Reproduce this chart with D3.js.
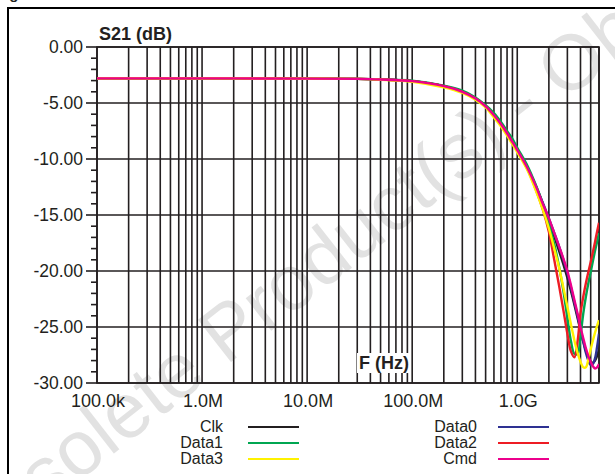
<!DOCTYPE html>
<html><head><meta charset="utf-8">
<script src="https://cdn.jsdelivr.net/npm/d3@7"></script>
<style>
html,body{margin:0;padding:0;background:#fff;}
svg{display:block;font-family:"Liberation Sans",Arial,Helvetica,sans-serif;}
</style></head>
<body>
<svg id="chart" width="615" height="474"></svg>
<script>
// ---------- data ----------
const freqs = [1e5,1e6,1e7,3e7,5e7,1e8,2e8,3e8,4e8,5e8,6e8,7e8,8e8,9e8,1e9,
  1.25e9,1.5e9,1.75e9,2e9,2.25e9,2.5e9,2.75e9,3e9,3.25e9,3.5e9,3.75e9,4e9,4.25e9,4.5e9,4.75e9,5e9,5.25e9,5.5e9,5.75e9,6e9];
const clk   = [-2.8,-2.8,-2.82,-2.85,-2.9,-3.05,-3.5,-4.0,-4.6,-5.3,-6.1,-6.9,-7.7,-8.5,-9.2,
  -10.8,-12.4,-14.0,-15.5,-16.9,-18.2,-19.4,-20.6,-21.8,-23.0,-24.2,-25.3,-26.3,-27.1,-27.7,-28.1,-28.2,-28.0,-27.6,-27.0];
const data0 = [-2.8,-2.8,-2.82,-2.85,-2.9,-3.05,-3.5,-4.0,-4.6,-5.3,-6.1,-6.9,-7.7,-8.5,-9.2,
  -10.8,-12.4,-13.9,-15.3,-16.6,-17.8,-19.0,-20.2,-21.5,-22.8,-24.0,-25.2,-26.3,-27.3,-28.0,-28.4,-28.3,-27.8,-26.8,-25.6];
const data1 = [-2.8,-2.8,-2.82,-2.85,-2.9,-3.0,-3.45,-3.9,-4.5,-5.2,-5.9,-6.7,-7.5,-8.2,-9.0,
  -10.6,-12.3,-14.0,-15.8,-17.6,-19.6,-21.8,-24.2,-26.3,-27.4,-27.4,-25.8,-23.8,-22.3,-21.1,-20.1,-19.1,-18.2,-17.4,-16.6];
const data2 = [-2.8,-2.8,-2.82,-2.85,-2.9,-3.05,-3.5,-4.0,-4.6,-5.3,-6.1,-6.9,-7.7,-8.5,-9.2,
  -10.9,-12.7,-14.5,-16.5,-19.0,-21.3,-23.5,-25.6,-27.2,-27.7,-26.3,-23.8,-22.3,-21.1,-20.1,-19.2,-18.3,-17.4,-16.5,-15.7];
const data3 = [-2.8,-2.8,-2.82,-2.85,-2.92,-3.1,-3.6,-4.1,-4.7,-5.4,-6.3,-7.1,-7.9,-8.7,-9.4,
  -11.0,-12.8,-14.5,-16.2,-18.0,-19.7,-21.5,-23.2,-24.8,-26.2,-27.3,-28.1,-28.6,-28.6,-27.9,-27.0,-26.2,-25.5,-24.9,-24.4];
const cmd   = [-2.8,-2.8,-2.82,-2.85,-2.9,-3.05,-3.5,-4.0,-4.6,-5.3,-6.1,-6.9,-7.7,-8.5,-9.2,
  -10.8,-12.4,-14.0,-15.3,-16.6,-17.8,-18.9,-20.0,-21.3,-22.6,-23.8,-25.0,-26.0,-26.9,-27.6,-28.1,-28.5,-28.7,-28.6,-28.3];

const seriesNames  = ["Clk","Data0","Data1","Data2","Data3","Cmd"];
const seriesValues = [clk, data0, data1, data2, data3, cmd];
const seriesColors = ["#231f20","#2e3192","#00a651","#ed1c24","#fff200","#ec008c"];

const xTickValues = [1e5,1e6,1e7,1e8,1e9];
const xTickLabels = ["100.0k","1.0M","10.0M","100.0M","1.0G"];
const yTickValues = [0,-5,-10,-15,-20,-25,-30];
const yTickLabels = ["0.00","-5.00","-10.00","-15.00","-20.00","-25.00","-30.00"];

// ---------- layout ----------
const svg = d3.select("#chart");
const L = 97, R = 599, T = 47, B = 383;
const ink = "#231f20";

const x = d3.scaleLog().domain([1e5, 6e9]).range([L, R]);
const y = d3.scaleLinear().domain([0, -30]).range([T, B]);

// watermark
const wm = svg.append("text")
  .attr("font-size", 78)
  .attr("fill", "#e2e2e2")
  .text("Obsolete Product(s) - Obsolete Product(s)");
const off = wm.node().getSubStringLength(0, 9);
wm.attr("transform", `translate(226,366) rotate(-38) translate(${-off},0)`);

// partial title at very top
svg.append("text").attr("x", -4).attr("y", -1)
  .attr("font-size", 15).attr("font-weight", "bold").attr("fill", ink).text("Figure");

// outer frame
svg.append("rect").attr("x", 8).attr("y", 8).attr("width", 700).attr("height", 600)
  .attr("fill", "none").attr("stroke", "#000").attr("stroke-width", 2);

// grid: vertical lines (log decades 1..9)
const vGrid = [];
for (let d = 1e5; d < 6e9; d *= 10) for (let k = 1; k <= 9; k++) { const f = d * k; if (f <= 6e9) vGrid.push(f); }
svg.append("g").selectAll("line").data(vGrid).join("line")
  .attr("x1", d => x(d)).attr("x2", d => x(d)).attr("y1", T).attr("y2", B)
  .attr("stroke", ink).attr("stroke-width", 1.6);
svg.append("g").selectAll("line").data(yTickValues).join("line")
  .attr("x1", L).attr("x2", R).attr("y1", d => y(d)).attr("y2", d => y(d))
  .attr("stroke", ink).attr("stroke-width", 1.6);
svg.append("rect").attr("x", L).attr("y", T).attr("width", R - L).attr("height", B - T)
  .attr("fill", "none").attr("stroke", ink).attr("stroke-width", 1.6);

// y axis ticks
const yMinor = d3.range(0, -31, -1);
svg.append("g").selectAll("line").data(yMinor).join("line")
  .attr("x1", d => (d % 5 === 0 ? 86 : 91)).attr("x2", L)
  .attr("y1", d => y(d)).attr("y2", d => y(d))
  .attr("stroke", ink).attr("stroke-width", 1.6);
svg.append("g").selectAll("text").data(yTickValues).join("text")
  .attr("x", 83).attr("y", d => y(d)).attr("dy", "0.36em")
  .attr("text-anchor", "end").attr("font-size", 17.5).attr("fill", ink)
  .text((d, i) => yTickLabels[i]);

// x axis labels
svg.append("g").selectAll("text").data(xTickValues).join("text")
  .attr("x", d => x(d) + 1).attr("y", 407)
  .attr("text-anchor", "middle").attr("font-size", 18).attr("fill", ink)
  .text((d, i) => xTickLabels[i]);

// axis titles
svg.append("text").attr("x", 99).attr("y", 40).attr("font-size", 18)
  .attr("font-weight", "bold").attr("fill", ink).text("S21 (dB)");
const fx = svg.append("g");
const fxt = fx.append("text").attr("x", 384).attr("y", 369).attr("text-anchor", "middle")
  .attr("font-size", 18).attr("font-weight", "bold").attr("fill", ink).text("F (Hz)");
const bb = fxt.node().getBBox();
fx.insert("rect", "text").attr("x", bb.x - 2).attr("y", bb.y).attr("width", bb.width + 4)
  .attr("height", bb.height).attr("fill", "#fff");

// curves
svg.append("clipPath").attr("id", "clip").append("rect")
  .attr("x", L).attr("y", T).attr("width", R - L).attr("height", B - T);
const line = d3.line().x(d => x(d[0])).y(d => y(d[1])).curve(d3.curveCatmullRom.alpha(0.5));
svg.append("g").attr("clip-path", "url(#clip)").selectAll("path")
  .data(seriesValues).join("path")
  .attr("d", vals => line(freqs.map((f, i) => [f, vals[i]])))
  .attr("fill", "none").attr("stroke", (d, i) => seriesColors[i])
  .attr("stroke-width", 2.4).attr("stroke-linejoin", "round");

// legend
const legendOrder = [["Clk", 0], ["Data1", 2], ["Data3", 4], ["Data0", 1], ["Data2", 3], ["Cmd", 5]];
legendOrder.forEach(([name, idx], k) => {
  const col = k < 3 ? 0 : 1, row = k % 3;
  const tx = col === 0 ? 223 : 477;
  const lx = col === 0 ? 248 : 498;
  const by = 432 + row * 16;
  svg.append("text").attr("x", tx).attr("y", by).attr("text-anchor", "end")
    .attr("font-size", 16).attr("fill", ink).text(name);
  svg.append("line").attr("x1", lx).attr("x2", lx + 51).attr("y1", by - 5).attr("y2", by - 5)
    .attr("stroke", seriesColors[idx]).attr("stroke-width", 2);
});
</script>
</body></html>
